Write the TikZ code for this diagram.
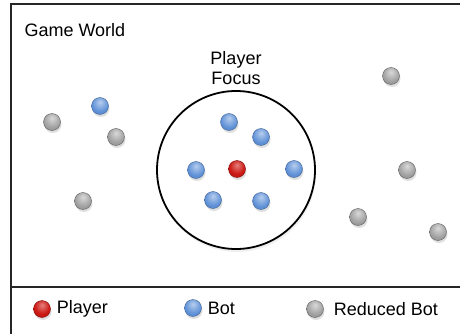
\documentclass[tikz,border=0pt]{standalone}
\usepackage{fontspec}
\setmainfont{Liberation Sans}
\usetikzlibrary{positioning,shadows}

\definecolor{botblue}{RGB}{95,145,215}
\definecolor{playerred}{RGB}{205,25,20}
\definecolor{reducedgray}{RGB}{160,160,160}

\pgfdeclareradialshading{playershade}{\pgfpoint{0bp}{12bp}}{%
  color(0bp)=(playerred!55!white); color(22bp)=(playerred);
  color(48bp)=(playerred!80!black); color(70bp)=(playerred!60!black)}
\pgfdeclareradialshading{botshade}{\pgfpoint{0bp}{12bp}}{%
  color(0bp)=(botblue!45!white); color(24bp)=(botblue);
  color(48bp)=(botblue!85!black); color(70bp)=(botblue!65!black)}
\pgfdeclareradialshading{reducedshade}{\pgfpoint{0bp}{12bp}}{%
  color(0bp)=(reducedgray!40!white); color(24bp)=(reducedgray);
  color(48bp)=(reducedgray!80!black); color(70bp)=(reducedgray!60!black)}

\tikzset{
  dot/.style={circle,inner sep=0pt,minimum size=17pt,line width=0.4pt,
    drop shadow={shadow xshift=1pt,shadow yshift=-2.5pt,opacity=0.25}},
  player/.style={dot,shading=playershade,draw=playerred!65!black},
  bot/.style={dot,shading=botshade,draw=botblue!70!black},
  reduced/.style={dot,shading=reducedshade,draw=reducedgray!60!black}
}

\begin{document}
\begin{tikzpicture}[x=1pt,y=-1pt,font=\fontsize{18}{20}\selectfont]
\useasboundingbox (0,0) rectangle (460,334);
\clip (0,0) rectangle (460,334);

% Draw world frame and legend bar
\draw[line width=2pt,black!85] (11,4) rectangle (480,360);
\draw[line width=2pt,black!85] (11,287) -- (480,287);
\node[anchor=west] (title) at (21,30) {Game World};

% Draw player focus area
\node[circle,draw,fill=white,line width=1.8pt,minimum size=158pt,inner sep=0pt,
  drop shadow={shadow xshift=1pt,shadow yshift=-3pt,opacity=0.12}] (focus) at (236,170) {};
\node[align=center,inner sep=0pt] (focuslabel) at (236,68) {Player\\Focus};

% Draw player and nearby bots
\node[player] (p) at (237,169) {};
\node[bot] (b1) at (229,122) {};
\node[bot] (b2) at (261,137) {};
\node[bot] (b3) at (196,170) {};
\node[bot] (b4) at (294,169) {};
\node[bot] (b5) at (213,200) {};
\node[bot] (b6) at (261,201) {};

% Draw bots outside the focus
\node[bot] (b7) at (100,106) {};
\node[reduced] (r1) at (52,122) {};
\node[reduced] (r2) at (116,137) {};
\node[reduced] (r3) at (83,201) {};
\node[reduced] (r4) at (391,76) {};
\node[reduced] (r5) at (407,170) {};
\node[reduced] (r6) at (358,217) {};
\node[reduced] (r7) at (438,232) {};

% Draw legend
\node[player] (lp) at (42,309) {};
\node[right=6pt of lp,inner sep=0pt] (lptext) {Player};
\node[bot] (lb) at (193,308) {};
\node[right=6pt of lb,inner sep=0pt] (lbtext) {Bot};
\node[reduced] (lr) at (315,309) {};
\node[right=10pt of lr,inner sep=0pt] (lrtext) {Reduced Bot};
\end{tikzpicture}
\end{document}
